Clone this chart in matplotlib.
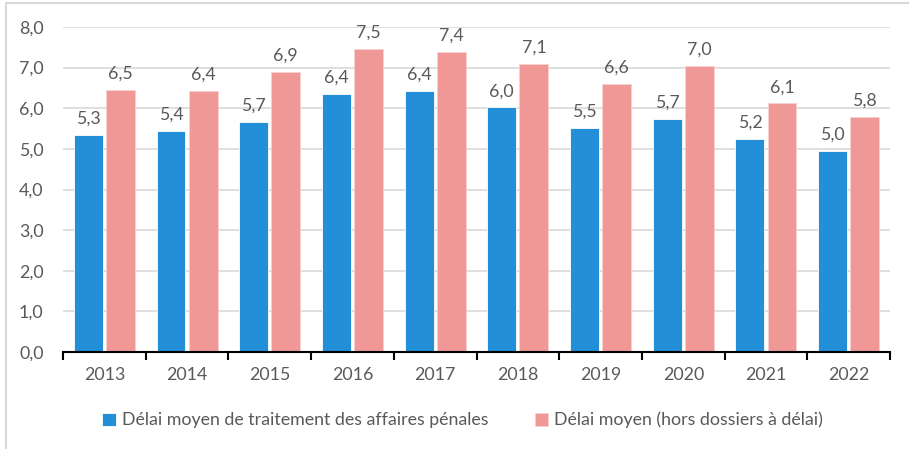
import matplotlib

matplotlib.use("Agg")
import matplotlib.pyplot as plt
import numpy as np
from matplotlib.patches import Rectangle

plt.rcParams["font.family"] = ["Lato", "DejaVu Sans"]

years = ["2013", "2014", "2015", "2016", "2017", "2018", "2019", "2020", "2021", "2022"]
delai_moyen = [5.34, 5.44, 5.66, 6.36, 6.43, 6.02, 5.51, 5.74, 5.24, 4.96]
delai_hors = [6.46, 6.43, 6.89, 7.47, 7.39, 7.10, 6.60, 7.04, 6.12, 5.79]
series_names = [
    "Délai moyen de traitement des affaires pénales",
    "Délai moyen (hors dossiers à délai)",
]

BLUE = "#228FD8"
PINK = "#F09896"
TXT = "#595959"
GRID = "#D9D9D9"
FS = 12.8

fig = plt.figure(figsize=(9.09, 4.49), dpi=100)
fig.patch.set_facecolor("white")
fig.patches.append(Rectangle((6 / 909, -0.01), 1.0, 1.0 - 3 / 449 + 0.01, transform=fig.transFigure,
                             fill=False, edgecolor="#D9D9D9", lw=1.5))

ax = fig.add_axes([63 / 909, 1 - 352 / 449, (890 - 63) / 909, (352 - 27) / 449])

x = np.arange(len(years))
w = 0.35
off = 0.194
ax.bar(x - off, delai_moyen, w, color=BLUE, edgecolor="white", lw=0.6, label=series_names[0], zorder=2)
ax.bar(x + off, delai_hors, w, color=PINK, edgecolor="#F8D0CF", lw=0.6, label=series_names[1], zorder=2)

for xi, v in zip(x, delai_moyen):
    ax.text(xi - off, v + 0.2, f"{v:.1f}".replace(".", ","), ha="center", va="bottom", fontsize=FS, color=TXT)
for xi, v in zip(x, delai_hors):
    ax.text(xi + off, v + 0.2, f"{v:.1f}".replace(".", ","), ha="center", va="bottom", fontsize=FS, color=TXT)

ax.set_xlim(-0.5, len(years) - 0.5)
ax.set_ylim(0, 8)
ax.set_yticks(np.arange(0, 8.1, 1))
ax.set_yticklabels([f"{t:.1f}".replace(".", ",") for t in np.arange(0, 8.1, 1)])
ax.set_xticks(x)
ax.set_xticklabels(years)
ax.set_xticks(np.arange(-0.5, len(years), 1), minor=True)
ax.tick_params(axis="x", which="major", length=0, pad=11, labelsize=FS, labelcolor=TXT)
ax.tick_params(axis="x", which="minor", length=6, width=1.5, color="black", direction="out")
ax.tick_params(axis="y", length=0, pad=14, labelsize=FS, labelcolor=TXT)

ax.grid(axis="y", color=GRID, lw=1.2, zorder=0)
for s in ["top", "right", "left"]:
    ax.spines[s].set_visible(False)
ax.spines["bottom"].set_color("black")
ax.spines["bottom"].set_linewidth(1.5)
ax.spines["bottom"].set_zorder(3)

fig.legend(loc="center", bbox_to_anchor=(0.509, 1 - 420 / 449), ncol=2, frameon=False,
           fontsize=FS, labelcolor=TXT, handlelength=0.75, handleheight=0.75,
           handletextpad=0.35, columnspacing=2.6)

fig.savefig("out.png", dpi=100)
